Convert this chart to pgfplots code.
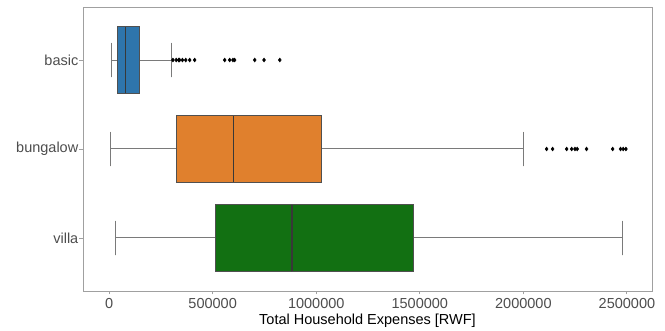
\documentclass[border=0pt]{standalone}
\usepackage{pgfplots}
\pgfplotsset{compat=1.18}
\usepgfplotslibrary{statistics}
\usepackage{fontspec}
\setmainfont{Liberation Sans}

\definecolor{cbasic}{HTML}{2E75AC}
\definecolor{cbungalow}{HTML}{E0802D}
\definecolor{cvilla}{HTML}{127012}
\definecolor{frame}{HTML}{A0A0A0}
\definecolor{edge}{HTML}{505050}
\definecolor{whisk}{HTML}{7A7A7A}
\definecolor{ticktext}{HTML}{4D4D4D}

\begin{document}
\begin{tikzpicture}
\useasboundingbox (-83pt,-40pt) rectangle (582pt,291pt);
\begin{axis}[
  scale only axis,
  width=569pt, height=284pt,
  xmin=-126000, xmax=2621000,
  ymin=0.404, ymax=3.596,
  axis line style={frame, line width=0.9pt},
  xtick={0,500000,1000000,1500000,2000000,2500000},
  scaled x ticks=false,
  xticklabel style={/pgf/number format/fixed, /pgf/number format/1000 sep={}},
  /pgf/number format/assume math mode=true,
  ytick={1,2,3},
  yticklabels={villa,bungalow,basic},
  xtick pos=lower, ytick pos=left,
  tick align=outside,
  major tick length=3.5pt,
  tick style={frame, line width=0.9pt},
  ticklabel style={font=\fontsize{14.5}{16}\selectfont, text=ticktext},
  yticklabel style={inner xsep=1pt},
  xlabel={Total Household Expenses [RWF]},
  xlabel style={font=\fontsize{14.5}{16}\selectfont, text=black, yshift=1pt},
  boxplot/box extend=0.75,
  boxplot/whisker extend=0.39,
  boxplot/every box/.style={draw=edge, line width=1pt},
  boxplot/every whisker/.style={draw=whisk, line width=1pt},
  boxplot/every median/.style={draw=black!78, line width=1.2pt},
  mark options={solid},
]
% basic
\addplot[fill=cbasic, mark=diamond*, mark size=2pt, mark options={fill=black, draw=black},
  boxplot prepared={draw position=3,
    lower whisker=10600, lower quartile=39600, median=79700,
    upper quartile=147300, upper whisker=302000}]
  table[row sep=\\, y index=0] {data\\ 308000\\ 324000\\ 336000\\ 340000\\ 354000\\ 370000\\ 389000\\ 413000\\ 558000\\ 582000\\ 598000\\ 606000\\ 703000\\ 748000\\ 824000\\};
% bungalow
\addplot[fill=cbungalow, mark=diamond*, mark size=2pt, mark options={fill=black, draw=black},
  boxplot prepared={draw position=2,
    lower whisker=8700, lower quartile=327500, median=600000,
    upper quartile=1025000, upper whisker=2000000}]
  table[row sep=\\, y index=0] {data\\ 2112000\\ 2141000\\ 2209000\\ 2233000\\ 2249000\\ 2260000\\ 2305000\\ 2431000\\ 2469000\\ 2482000\\ 2495000\\};
% villa
\addplot[fill=cvilla,
  boxplot prepared={draw position=1,
    lower whisker=31400, lower quartile=513000, median=883000,
    upper quartile=1468000, upper whisker=2479000}]
  coordinates {};
\end{axis}
\end{tikzpicture}
\end{document}
